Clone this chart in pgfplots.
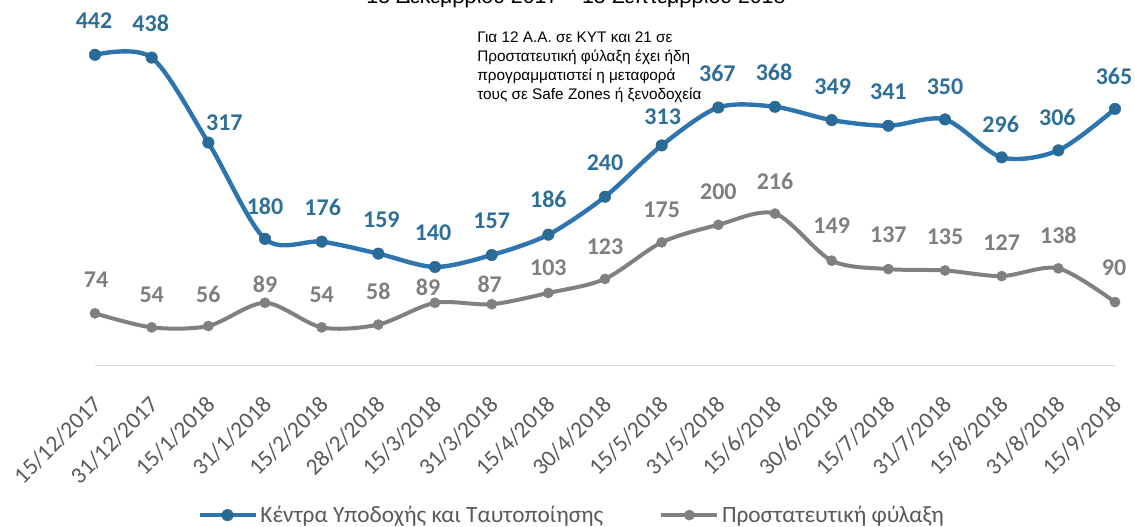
\documentclass[border=0pt]{standalone}
\usepackage{fontspec}
\setmainfont{Carlito}
\newfontfamily\arial{Liberation Sans}
\usepackage{pgfplots}
\pgfplotsset{compat=1.18}
\usetikzlibrary{calc}

\definecolor{bline}{HTML}{2E75B0}
\definecolor{bmark}{HTML}{2A6A96}
\definecolor{blab}{HTML}{2E6F98}
\definecolor{gline}{HTML}{808080}
\definecolor{glab}{HTML}{7F7F7F}
\definecolor{txt}{HTML}{595959}
\definecolor{axl}{HTML}{D9D9D9}

\tikzset{
  lbB/.style={font=\fontsize{18}{20}\selectfont\bfseries, text=blab},
  lbG/.style={font=\fontsize{18}{20}\selectfont\bfseries, text=glab},
}
% label: style, x, y, dx(px), dy(px)
\newcommand{\lb}[5]{\node[#1,xshift=#4*0.75pt,yshift=#5*0.75pt] at (axis cs:#2,#3) {#3};}

\begin{document}
\begin{tikzpicture}
\begin{axis}[
  scale only axis,
  width=765pt, height=274pt,
  xmin=0, xmax=18, ymin=0, ymax=520,
  clip=false,
  axis y line=none,
  axis x line*=bottom,
  x axis line style={axl, line width=1pt, -},
  xtick={0,...,18},
  major tick length=0pt,
  xticklabels={15/12/2017,31/12/2017,15/1/2018,31/1/2018,15/2/2018,28/2/2018,
    15/3/2018,31/3/2018,15/4/2018,30/4/2018,15/5/2018,31/5/2018,15/6/2018,
    30/6/2018,15/7/2018,31/7/2018,15/8/2018,31/8/2018,15/9/2018},
  xticklabel style={xshift=-2.75pt, yshift=-20pt, rotate=45, anchor=north east,
    inner sep=1pt, font=\fontsize{17.5}{20}\selectfont, text=txt},
  legend columns=2,
  legend style={at={(axis description cs:0.4676,-0.41)}, anchor=center, draw=none,
    font=\fontsize{17.5}{20}\selectfont, text=txt,
    /tikz/every even column/.append style={column sep=40pt}},
  legend image code/.code={\draw[mark repeat=2, mark phase=2, #1]
    plot coordinates {(0pt,0pt) (21pt,0pt) (42pt,0pt)};},
]
\coordinate (TL) at (rel axis cs:0,1);

\addplot[bline, line width=3.3pt, smooth, mark=*, mark size=4.3pt,
  mark options={fill=bmark, draw=bmark, line width=0.4pt}] coordinates {
  (0,442) (1,438) (2,317) (3,180) (4,176) (5,159) (6,140) (7,157) (8,186)
  (9,240) (10,313) (11,367) (12,368) (13,349) (14,341) (15,350) (16,296)
  (17,306) (18,365)
};
\addlegendentry{Κέντρα Υποδοχής και Ταυτοποίησης}

\addplot[gline, line width=3pt, smooth, mark=*, mark size=3.8pt,
  mark options={fill=gline, draw=gline, line width=0.4pt}] coordinates {
  (0,74) (1,54) (2,56) (3,89) (4,54) (5,58) (6,89) (7,87) (8,103)
  (9,123) (10,175) (11,200) (12,216) (13,149) (14,137) (15,135) (16,127)
  (17,138) (18,90)
};
\addlegendentry{Προστατευτική φύλαξη}

% data labels
\lb{lbB}{0}{442}{-1}{34}
\lb{lbB}{1}{438}{-1}{34}
\lb{lbB}{2}{317}{16}{20}
\lb{lbB}{3}{180}{0}{33}
\lb{lbB}{4}{176}{1}{34}
\lb{lbB}{5}{159}{3}{34}
\lb{lbB}{6}{140}{-2}{34}
\lb{lbB}{7}{157}{0}{34}
\lb{lbB}{8}{186}{0}{35}
\lb{lbB}{9}{240}{0}{34}
\lb{lbB}{10}{313}{1}{29}
\lb{lbB}{11}{367}{-1}{34}
\lb{lbB}{12}{368}{-1}{34}
\lb{lbB}{13}{349}{1}{33}
\lb{lbB}{14}{341}{0}{34}
\lb{lbB}{15}{350}{0}{33}
\lb{lbB}{16}{296}{-1}{33}
\lb{lbB}{17}{306}{-1}{33}
\lb{lbB}{18}{365}{-1}{32}

\lb{lbG}{0}{74}{1}{34}
\lb{lbG}{1}{54}{0}{33}
\lb{lbG}{2}{56}{0}{32}
\lb{lbG}{3}{89}{0}{18}
\lb{lbG}{4}{54}{0}{33}
\lb{lbG}{5}{58}{0}{33}
\lb{lbG}{6}{89}{-7}{15.5}
\lb{lbG}{7}{87}{-2}{20}
\lb{lbG}{8}{103}{0}{25}
\lb{lbG}{9}{123}{0}{32}
\lb{lbG}{10}{175}{0}{33}
\lb{lbG}{11}{200}{0}{33}
\lb{lbG}{12}{216}{0}{32}
\lb{lbG}{13}{149}{0}{35}
\lb{lbG}{14}{137}{0}{34}
\lb{lbG}{15}{135}{0}{34}
\lb{lbG}{16}{127}{0}{33}
\lb{lbG}{17}{138}{0}{33}
\lb{lbG}{18}{90}{-1}{34}
\end{axis}

% overlay in reference pixel coordinates (origin top-left of the image)
\begin{scope}[shift={($(TL)+(-71.25pt,0pt)$)}, x=0.75pt, y=-0.75pt]
  \node[font=\arial\fontsize{11.5}{14.25}\selectfont, align=left, inner sep=0pt,
    anchor=north west] at (477,32)
    {Για 12 Α.Α. σε ΚΥΤ και 21 σε\\Προστατευτική φύλαξη έχει ήδη\\
     προγραμματιστεί η μεταφορά\\τους σε Safe Zones ή ξενοδοχεία};
  \begin{pgfinterruptboundingbox}
    \node[font=\arial\fontsize{16}{19}\selectfont, anchor=base] at (576,4)
      {15 Δεκεμβρίου 2017 – 15 Σεπτεμβρίου 2018};
  \end{pgfinterruptboundingbox}
  \pgfresetboundingbox
  \useasboundingbox (0,0) rectangle (1135,527);
\end{scope}
\end{tikzpicture}
\end{document}
